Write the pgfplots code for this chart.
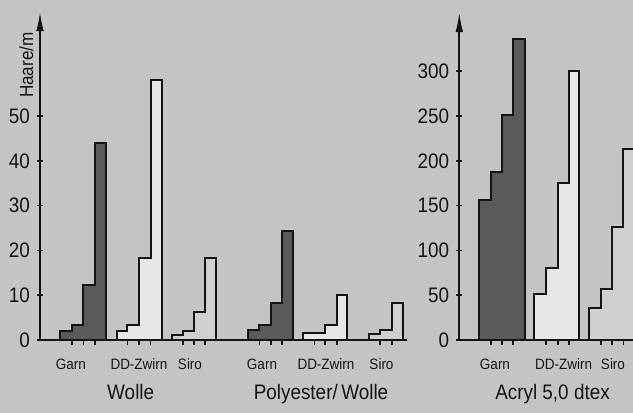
\documentclass[border=0pt]{standalone}
\usepackage{fontspec}
\setmainfont{Liberation Sans}[FakeStretch=0.9]
\usepackage{pgfplots}
\pgfplotsset{compat=1.18}
\usetikzlibrary{arrows.meta}

\definecolor{bg}{HTML}{C4C4C4}
\definecolor{garn}{HTML}{5A5A5A}
\definecolor{ddzwirn}{HTML}{E6E6E6}
\definecolor{siro}{HTML}{CFCFCF}
\definecolor{ink}{HTML}{141414}

\newcommand{\bigfont}{\fontsize{10.5}{12}\selectfont}
\newcommand{\catfont}{\fontsize{7.5}{9}\selectfont}

\pgfplotsset{
  panel/.style={
    x=0.5pt, xmin=0, ymin=0,
    clip=false,
    axis x line=bottom, axis y line=left,
    x axis line style={-, line width=1pt, ink},
    y axis line style={-{Latex[length=10pt,width=3.8pt]}, line width=1pt, ink},
    tick align=center,
    major tick length=3pt, minor tick length=2.6pt,
    tick style={line width=0.8pt, ink},
    major x tick style={draw=none},
    minor x tick style={yshift=-1.3pt},
    xticklabel style={font=\catfont, anchor=base, yshift=-13.3pt, text=ink},
    yticklabel style={font=\bigfont, text=ink},
    /pgf/number format/assume math mode=true,
  },
  stair/.style={const plot, draw=ink, line width=1pt, fill=#1},
}

\begin{document}
\begin{tikzpicture}
\useasboundingbox (0,0) rectangle (316.5pt,206.5pt);
\clip (0,0) rectangle (316.5pt,206.5pt);
\fill[bg] (0,0) rectangle (316.5pt,206.5pt);

% Wolle and Polyester/Wolle
\begin{axis}[panel,
  at={(20pt,36.5pt)}, anchor=south west,
  y=2.24pt, xmax=367, ymax=73.4,
  ytick={0,10,...,50},
  xtick={30.8,99,150,222,286,341.5},
  xticklabels={Garn,DD-Zwirn,Siro,Garn,DD-Zwirn,Siro},
  minor xtick={31.7,43.3,55,87.3,98.7,110.5,142.8,154,165,219.3,230.7,241.7,274.5,285,296.7,340,351.7},
  ylabel={Haare/m},
  ylabel style={at={(axis description cs:-0.037,0.836)}, anchor=center, font=\fontsize{9.5}{11}\selectfont, text=ink},
]
\addplot[stair=garn] coordinates {(20,2.1) (31.7,3.3) (43.3,12.3) (55,44) (66,44)} \closedcycle;
\addplot[stair=ddzwirn] coordinates {(76.5,2.1) (87.3,3.3) (98.7,18.2) (110.5,58) (121.5,58)} \closedcycle;
\addplot[stair=siro] coordinates {(131.7,1.1) (142.8,2.0) (154,6.2) (165,18.2) (176,18.2)} \closedcycle;
\addplot[stair=garn] coordinates {(208.3,2.2) (219.3,3.3) (230.7,8.2) (241.7,24.3) (253.3,24.3)} \closedcycle;
\addplot[stair=ddzwirn] coordinates {(263.3,1.5) (274.5,1.5) (285,3.3) (296.7,10) (307,10)} \closedcycle;
\addplot[stair=siro] coordinates {(329.3,1.3) (340,2.2) (351.7,8.2) (363,8.2)} \closedcycle;
\node[font=\bigfont, anchor=base, text=ink] at (axis cs:90.7,0) [yshift=-30pt] {Wolle};
\node[font=\bigfont, anchor=base, text=ink] at (axis cs:281,0) [yshift=-30pt] {Polyester/\,Wolle};
\end{axis}

% Acryl 5,0 dtex
\begin{axis}[panel,
  at={(229.65pt,36.5pt)}, anchor=south west,
  y=0.448pt, xmax=173.7, ymax=366,
  ytick={0,50,...,300},
  xtick={35.7,104.4,153.7},
  xticklabels={Garn,DD-Zwirn,Siro},
  minor xtick={31.7,42.4,53.4,86.7,98.4,109.7,141.4,152.7,164},
]
\addplot[stair=garn] coordinates {(20,156) (31.7,187) (42.4,251) (53.4,336) (65.7,336)} \closedcycle;
\addplot[stair=ddzwirn] coordinates {(75,51) (86.7,80) (98.4,175) (109.7,300) (119.7,300)} \closedcycle;
\addplot[stair=siro] coordinates {(130,36) (141.4,57) (152.7,126) (164,213) (178,213)} \closedcycle;
\node[font=\bigfont, anchor=base, text=ink] at (axis cs:93.2,0) [yshift=-30pt] {Acryl 5,0 dtex};
\end{axis}
\end{tikzpicture}
\end{document}
